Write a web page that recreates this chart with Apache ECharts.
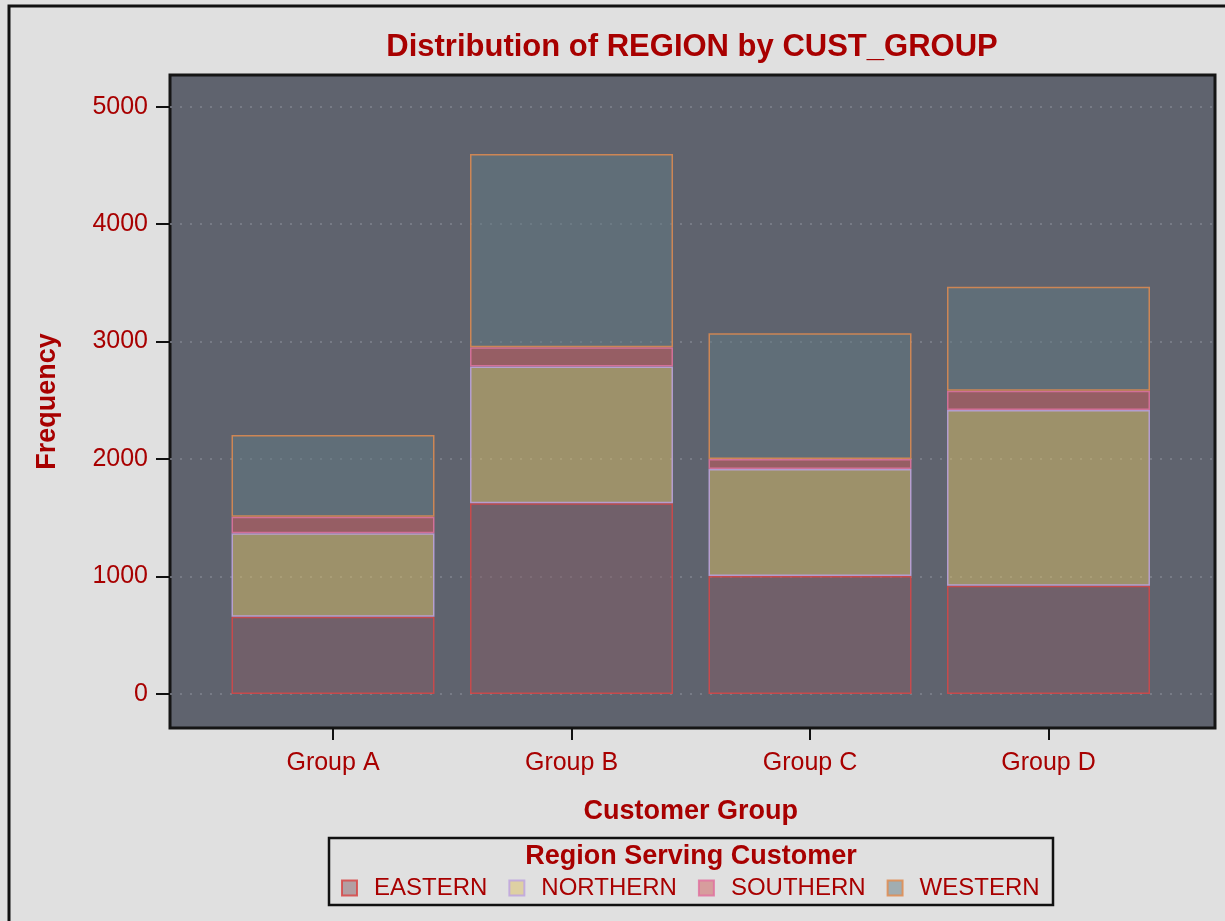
<!DOCTYPE html>
<html>
<head>
<meta charset="utf-8">
<script src="https://cdn.jsdelivr.net/npm/echarts@6/dist/echarts.min.js"></script>
<style>
  html, body { margin: 0; padding: 0; background: #e0e0e0; }
  #chart { width: 1225px; height: 921px; }
</style>
</head>
<body>
<div id="chart"></div>
<script type="text/javascript">
// categories on the x axis
var categories = ['Group A', 'Group B', 'Group C', 'Group D'];
// frequencies per region
var eastern  = [658, 1624, 1005, 922];
var northern = [710, 1163, 910, 1496];
var southern = [141, 165, 86, 164];
var western  = [696, 1645, 1070, 886];
var yTicks = [0, 1000, 2000, 3000, 4000, 5000];

var red = '#a80000';
var font = '"Liberation Sans", Arial, sans-serif';
var yMin = -290, yMax = 5270;

function bar(name, data, fill, edge) {
    return {
        name: name, type: 'bar', stack: 'total', barWidth: 203,
        xAxisIndex: 1, yAxisIndex: 1,
        data: data,
        itemStyle: { color: fill, borderColor: edge, borderWidth: 1.5 }
    };
}

var chart = echarts.init(document.getElementById('chart'));
var option = {
    backgroundColor: '#e0e0e0',
    animation: false,
    grid: [
        /* plot frame (dark panel + y axis) */
        { left: 170, top: 75, width: 1045, height: 653,
          show: true, backgroundColor: '#5f636e',
          borderColor: '#151515', borderWidth: 3 },
        /* band holding the bars */
        { left: 213.75, top: 75, width: 954, height: 653 }
    ],
    xAxis: [
        { type: 'value', gridIndex: 0, min: 0, max: 1, show: false },
        { type: 'category', gridIndex: 1, data: categories,
          name: 'Customer Group', nameLocation: 'middle', nameGap: 70,
          nameTextStyle: { color: red, fontSize: 27, fontWeight: 'bold', fontFamily: font },
          axisLine: { show: false, onZero: false },
          axisTick: { show: true, length: 12, alignWithLabel: true,
                      lineStyle: { color: '#111', width: 2 } },
          axisLabel: { margin: 23, color: red, fontSize: 25, fontFamily: font },
          splitLine: { show: false } }
    ],
    yAxis: [
        { type: 'value', gridIndex: 0, min: yMin, max: yMax,
          name: 'Frequency', nameLocation: 'middle', nameGap: 109, nameRotate: 90,
          nameTextStyle: { color: red, fontSize: 27, fontWeight: 'bold', fontFamily: font },
          axisLine: { show: false, onZero: false },
          axisTick: { show: true, length: 14, customValues: yTicks,
                      lineStyle: { color: '#111', width: 2 } },
          axisLabel: { customValues: yTicks, margin: 22, color: red, fontSize: 25, fontFamily: font,
                       formatter: function (v) { return String(v); } },
          splitLine: { show: true, lineStyle: { color: '#80848e', width: 1.5, type: [2, 8] } } },
        { type: 'value', gridIndex: 1, min: yMin, max: yMax, show: false,
          splitLine: { show: false } }
    ],
    legend: {
        left: 336, top: 871, itemWidth: 15, itemHeight: 15, itemGap: 21,
        icon: 'rect',
        textStyle: { color: red, fontSize: 24, fontFamily: font, lineHeight: 24, padding: [0, 0, 0, 12] },
        data: ['EASTERN', 'NORTHERN', 'SOUTHERN', 'WESTERN']
    },
    graphic: [
        { type: 'rect', z: 100, shape: { x: 9, y: 6, width: 1300, height: 1000 },
          style: { fill: 'none', stroke: '#111', lineWidth: 3 } },
        { type: 'rect', z: 100, shape: { x: 329, y: 838, width: 724, height: 67 },
          style: { fill: 'none', stroke: '#111', lineWidth: 2.5 } },
        { type: 'text', z: 100, x: 692, y: 47,
          style: { text: 'Distribution of REGION by CUST_GROUP', fill: red, align: 'center',
                   verticalAlign: 'middle', font: 'bold 31px ' + font } },
        { type: 'text', z: 100, x: 691, y: 857,
          style: { text: 'Region Serving Customer', fill: red, align: 'center',
                   verticalAlign: 'middle', font: 'bold 27px ' + font } }
    ],
    series: [
        bar('EASTERN',  eastern,  'rgba(131,93,102,0.5)',  'rgba(215,70,70,0.85)'),
        bar('NORTHERN', northern, 'rgba(219,191,102,0.5)', 'rgba(190,165,225,0.85)'),
        bar('SOUTHERN', southern, 'rgba(205,89,90,0.5)',   'rgba(225,115,160,0.85)'),
        bar('WESTERN',  western,  'rgba(97,121,130,0.5)',  'rgba(225,140,80,0.85)')
    ]
};
chart.setOption(option);
</script>
</body>
</html>
